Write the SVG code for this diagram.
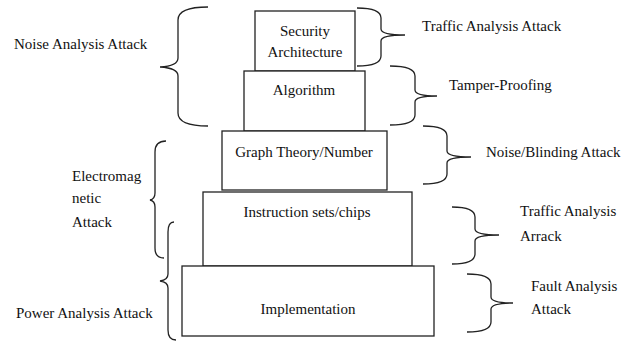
<svg xmlns="http://www.w3.org/2000/svg" width="633" height="341" viewBox="0 0 633 341">
  <style>
    .box { fill: #ffffff; stroke: #222; stroke-width: 1.3; }
    .brace { fill: none; stroke: #222; stroke-width: 1.3; }
    .c { text-anchor: middle; }
  </style>
  <rect width="633" height="341" fill="#ffffff"/>

  <g font-family="Liberation Serif, Times New Roman, serif" font-size="15" fill="#111">
  <!-- pyramid layers -->
  <g id="layer-security">
    <rect class="box" x="255" y="11" width="100" height="60"/>
    <text class="c" x="305" y="36">Security</text>
    <text class="c" x="305" y="57">Architecture</text>
  </g>
  <g id="layer-algorithm">
    <rect class="box" x="244" y="71" width="121" height="60"/>
    <text class="c" x="304" y="95">Algorithm</text>
  </g>
  <g id="layer-graph">
    <rect class="box" x="222" y="131" width="165" height="59"/>
    <text class="c" x="304" y="157">Graph Theory/Number</text>
  </g>
  <g id="layer-instruction">
    <rect class="box" x="203" y="192" width="209" height="74"/>
    <text class="c" x="307" y="217">Instruction sets/chips</text>
  </g>
  <g id="layer-implementation">
    <rect class="box" x="182" y="266" width="252" height="70"/>
    <text class="c" x="308" y="314">Implementation</text>
  </g>

  <!-- attack labels -->
  <g id="label-noise-analysis"><text x="14" y="49">Noise Analysis Attack</text></g>
  <g id="label-electromagnetic">
    <text x="72" y="181">Electromag</text>
    <text x="72" y="203">netic</text>
    <text x="72" y="227">Attack</text>
  </g>
  <g id="label-power"><text x="16" y="318">Power Analysis Attack</text></g>
  <g id="label-traffic-top"><text x="422" y="31">Traffic Analysis Attack</text></g>
  <g id="label-tamper"><text x="449" y="90">Tamper-Proofing</text></g>
  <g id="label-noise-blinding"><text x="486" y="157">Noise/Blinding Attack</text></g>
  <g id="label-traffic-bottom">
    <text x="520" y="216">Traffic Analysis</text>
    <text x="520" y="241">Arrack</text>
  </g>
  <g id="label-fault">
    <text x="531" y="291">Fault Analysis</text>
    <text x="531" y="314">Attack</text>
  </g>
  </g>

  <!-- braces -->
  <g id="connectors">
    <path class="brace" d="M208,7 Q178,7 178,20 L178,58 Q178,66 160,67 Q178,68 178,76 L178,113 Q178,126 208,126"/>
    <path class="brace" d="M166,141 Q155,141 155,152 L155,193 Q155,199 150,200 Q155,201 155,207 L155,248 Q155,258 164,258"/>
    <path class="brace" d="M174,222 Q168,222 168,232 L168,274 Q168,280 160,281 Q168,282 168,288 L168,330 Q168,340 176,340"/>

    <path class="brace" d="M357,8 Q381,8 381,18 L381,29 Q381,35 405,35 Q381,35 381,41 L381,56 Q381,66 357,66"/>
    <path class="brace" d="M390,66 Q415,66 415,76 L415,90 Q415,96 437,96 Q415,96 415,102 L415,115 Q415,125 390,125"/>
    <path class="brace" d="M423,126 Q447,126 447,136 L447,151 Q447,157 471,157 Q447,157 447,163 L447,174 Q447,184 423,184"/>
    <path class="brace" d="M452,207 Q475,207 475,217 L475,229 Q475,235 499,235 Q475,235 475,241 L475,254 Q475,264 452,264"/>
    <path class="brace" d="M467,274 Q491,274 491,284 L491,297 Q491,303 513,303 Q491,303 491,309 L491,322 Q491,332 467,332"/>
  </g>
</svg>
